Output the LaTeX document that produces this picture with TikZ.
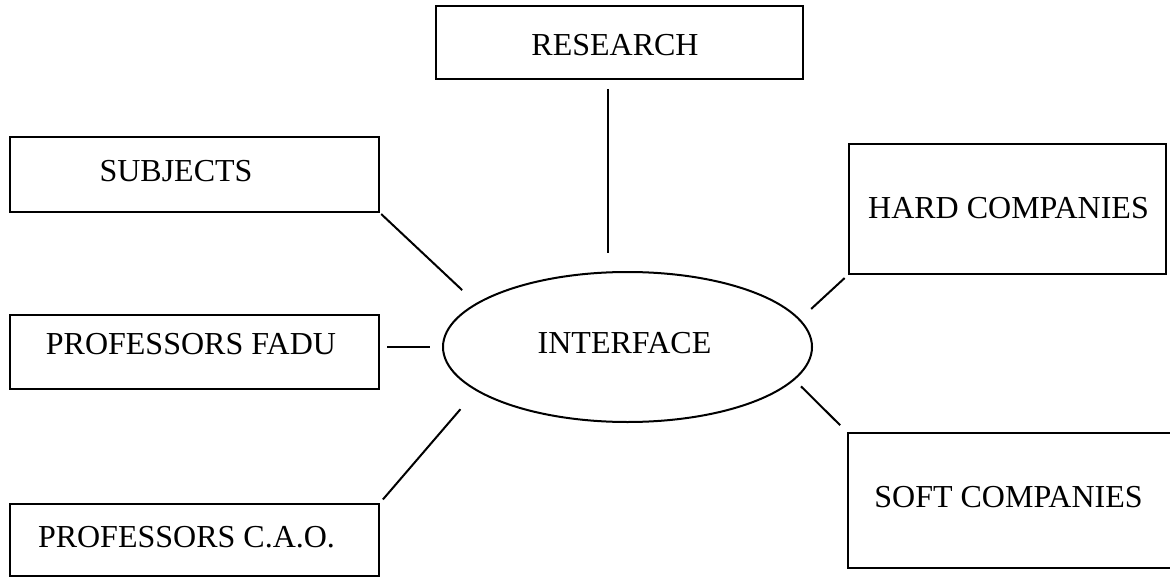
\documentclass[tikz,border=0pt]{standalone}
\usepackage{fontspec}
\setmainfont{Liberation Serif}
\usetikzlibrary{shapes.geometric}
\begin{document}
\begin{tikzpicture}[x=0.5pt,y=-0.5pt,
  box/.style={draw, line width=1pt, rectangle, inner sep=0pt, outer sep=0pt,
    text height=10.6pt, text depth=0pt, font=\fontsize{16}{19}\selectfont},
  oval/.style={draw, line width=1pt, ellipse, inner sep=0pt, outer sep=0pt,
    minimum width=184.5pt, minimum height=75pt,
    text height=10.6pt, text depth=0pt, font=\fontsize{16}{19}\selectfont},
  link/.style={line width=1pt}]
\useasboundingbox (0,0) rectangle (1170,577);
\node[box, minimum width=183.5pt, minimum height=36.5pt] (res) at (619.5,42.5)
  {\raisebox{-1.25pt}{RESEARCH\hspace*{4.5pt}}};
\node[box, minimum width=184.5pt, minimum height=37.5pt] (subj) at (194.5,174.5)
  {\raisebox{2pt}{SUBJECTS\hspace*{18.5pt}}};
\node[box, minimum width=184.5pt, minimum height=37pt] (fadu) at (194.5,352)
  {\raisebox{4.25pt}{PROFESSORS FADU\hspace*{3.5pt}}};
\node[box, minimum width=184.5pt, minimum height=36pt] (cao) at (194.5,540)
  {\raisebox{1.5pt}{PROFESSORS C.A.O.\hspace*{8pt}}};
\node[box, minimum width=158.5pt, minimum height=65pt] (hard) at (1007.5,209)
  {\raisebox{0.5pt}{\hspace*{1pt}HARD COMPANIES}};
\node[box, minimum width=166pt, minimum height=67.5pt] (soft) at (1014,500.5)
  {\raisebox{2pt}{SOFT COMPANIES\hspace*{5.5pt}}};
\node[oval] (iface) at (627.5,347) {\raisebox{2pt}{INTERFACE\hspace*{3pt}}};

\draw[link, shorten <=5pt, shorten >=9.5pt]
  ([xshift=-5.75pt]res.south) -- ([xshift=-5.75pt]res.south |- iface.north);
\draw[link, shorten <=1.5pt, shorten >=10pt] (subj.south east) -- (iface.164);
\draw[link, shorten <=4pt, shorten >=6.5pt] (iface.west -| fadu.east) -- (iface.west);
\draw[link, shorten <=3pt, shorten >=12.5pt] (cao.north east) -- (iface.196.6);
\draw[link, shorten <=3pt, shorten >=8pt] (hard.south west) -- (iface.9.6);
\draw[link, shorten <=5.5pt, shorten >=5pt] (soft.north west) -- (iface.349.6);
\end{tikzpicture}
\end{document}
